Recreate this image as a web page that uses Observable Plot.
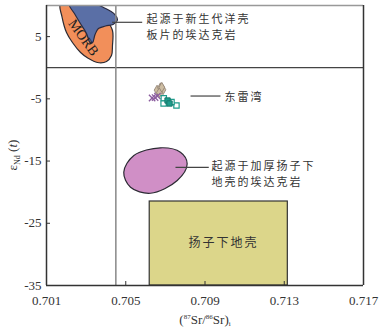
<!DOCTYPE html>
<html><head><meta charset="utf-8">
<script src="https://cdn.jsdelivr.net/npm/d3@7"></script>
<script src="https://cdn.jsdelivr.net/npm/@observablehq/plot@0.6"></script>
<style>
body{margin:0;background:#fff;}
.cn text{letter-spacing:2px;}
</style></head><body><div id="chart"></div>
<script>
// axes
const xTicks = [0.701, 0.705, 0.709, 0.713, 0.717];
const yTicks = [5, -5, -15, -25, -35];
const xDomain = [0.701, 0.717];
const yDomain = [-35, 10];
const refLineSr = 0.7045;   // vertical reference line
const refLineNd = 0;        // horizontal reference line

// MORB field (orange)
const morbX = [0.70171, 0.70178, 0.70201, 0.70231, 0.70272, 0.70312, 0.70357, 0.70403, 0.70428, 0.70433, 0.70433, 0.70398, 0.70347, 0.70322];
const morbY = [10.2, 8.23, 5.66, 4.05, 2.45, 1.48, 0.84, 1.0, 1.96, 3.57, 5.98, 7.91, 9.52, 10.2];
// Cenozoic oceanic slab adakite field (blue)
const slabX = [0.70215, 0.70241, 0.70271, 0.70302, 0.70319, 0.70332, 0.70345, 0.70362, 0.70398, 0.70438, 0.70458, 0.70443, 0.70393, 0.70347];
const slabY = [10.2, 8.71, 7.1, 5.5, 4.06, 4.0, 5.34, 6.3, 6.7, 7.0, 7.7, 8.6, 9.6, 10.2];
// thickened Yangtze lower crust adakite field (pink)
const thickX = [0.7049, 0.70541, 0.70675, 0.70776, 0.7081, 0.7076, 0.70625, 0.70524];
const thickY = [-16.79, -14.11, -12.87, -13.58, -15.44, -18.13, -20.17, -19.2];
// Yangtze lower crust box
const boxX1 = [0.70621], boxX2 = [0.71318], boxY1 = [-35], boxY2 = [-21.5];

// Donglei Bay samples
const diamondX = [0.70658, 0.70675, 0.70688, 0.7067, 0.70682];
const diamondY = [-3.6, -3.22, -3.55, -3.98, -3.15];
const crossX = [0.70633, 0.70648, 0.7066];
const crossY = [-4.87, -4.79, -4.55];
const openSqX = [0.70692, 0.70691, 0.70756, 0.70731];
const openSqY = [-4.9, -5.75, -6.07, -5.51];
const fillSqX = [0.70711, 0.70721];
const fillSqY = [-5.27, -5.75];

// annotations
const leaderX1 = [0.70431, 0.70827, 0.70751];
const leaderX2 = [0.70583, 0.70978, 0.70919];
const leaderY = [7.3, -4.55, -16.0];
const noteLines = [["起源于新生代洋壳", "板片的埃达克岩"], ["东雷湾"], ["起源于加厚扬子下", "地壳的埃达克岩"]];
const noteX = [0.70605, 0.70999, 0.70933];
const noteY = [6.79, -4.55, -16.95];
const boxLabel = ["扬子下地壳"], boxLabelX = [0.70993], boxLabelY = [-28.25];
const morbLabel = ["MORB"], morbLabelX = [0.70287], morbLabelY = [4.86];

const pts = (xs, ys) => xs.map((x, i) => ({x, y: ys[i]}));
const cnFont = "'Noto Sans CJK SC', sans-serif";

const plot = Plot.plot({
  width: 381, height: 333,
  marginLeft: 46, marginRight: 18, marginTop: 5, marginBottom: 48,
  x: {domain: xDomain},
  y: {domain: yDomain},
  style: {fontFamily: "'Liberation Serif', serif", fontSize: "13px", background: "#fff", color: "#333"},
  marks: [
    Plot.rect(boxX1.map((x, i) => ({x1: x, x2: boxX2[i], y1: boxY1[i], y2: boxY2[i]})),
      {x1: "x1", x2: "x2", y1: "y1", y2: "y2", fill: "#dcd68a", stroke: "#333", strokeWidth: 1.2}),
    Plot.line(pts(morbX, morbY), {x: "x", y: "y", curve: "catmull-rom-closed", fill: "#f28f5a", stroke: "#2b2b33", strokeWidth: 1.2, clip: true}),
    Plot.line(pts(slabX, slabY), {x: "x", y: "y", curve: "catmull-rom-closed", fill: "#5a6fa6", stroke: "#2b2b40", strokeWidth: 1.2, clip: true}),
    Plot.line(pts(thickX, thickY), {x: "x", y: "y", curve: "catmull-rom-closed", fill: "#d08fc6", stroke: "#2b2b33", strokeWidth: 1.2}),
    Plot.ruleY([refLineNd], {stroke: "#444", strokeWidth: 1.2}),
    Plot.ruleX([refLineSr], {stroke: "#888", strokeWidth: 1.5}),
    Plot.ruleY([yDomain[1]], {stroke: "#999", strokeWidth: 1.5}),
    Plot.ruleX([xDomain[1]], {stroke: "#333", strokeWidth: 1.5}),
    Plot.ruleX([xDomain[0]], {stroke: "#333", strokeWidth: 1.5}),
    Plot.ruleY([yDomain[0]], {stroke: "#333", strokeWidth: 1.5}),
    Plot.axisX({ticks: xTicks, tickFormat: d => d.toFixed(3), tickSize: -4, tickPadding: 14, label: null, stroke: "#333"}),
    Plot.axisY({ticks: yTicks, tickFormat: d => String(d), tickSize: -4, tickPadding: 9, label: null, stroke: "#333"}),
    Plot.link(leaderX1.map((x, i) => ({x1: x, x2: leaderX2[i], y: leaderY[i]})),
      {x1: "x1", x2: "x2", y1: "y", y2: "y", stroke: "#444", strokeWidth: 1.2}),
    Plot.text(noteX.map((x, i) => ({x, y: noteY[i], t: noteLines[i].join("\n")})),
      {x: "x", y: "y", text: "t", textAnchor: "start", lineHeight: 1.45, fontFamily: cnFont, fontSize: 11, fill: "#333", className: "cn"}),
    Plot.text(pts(boxLabelX, boxLabelY).map((d, i) => ({...d, t: boxLabel[i]})),
      {x: "x", y: "y", text: "t", fontFamily: cnFont, fontSize: 12, fill: "#333", className: "cn"}),
    Plot.text(pts(morbLabelX, morbLabelY).map((d, i) => ({...d, t: morbLabel[i]})),
      {x: "x", y: "y", text: "t", rotate: 54, fontSize: 14, fill: "#222"}),
    Plot.dot(pts(diamondX, diamondY), {x: "x", y: "y", symbol: "diamond", r: 3, fill: "#cdbda3", stroke: "#8d7e70", strokeWidth: 0.8}),
    Plot.dot(pts(crossX, crossY), {x: "x", y: "y", symbol: "times", r: 3, stroke: "#8b5c9e", strokeWidth: 1.3}),
    Plot.dot(pts(openSqX, openSqY), {x: "x", y: "y", symbol: "square", r: 3, fill: "white", stroke: "#1e9c8c", strokeWidth: 1.2}),
    Plot.dot(pts(fillSqX, fillSqY), {x: "x", y: "y", symbol: "square", r: 3, fill: "#1e9c8c", stroke: "#167a6d", strokeWidth: 1})
  ]
});

const svg = d3.select(plot);
// y label: εNd (t)
const yl = svg.append("text")
  .attr("transform", "translate(17,155) rotate(-90)")
  .attr("text-anchor", "middle")
  .attr("font-size", 13).attr("fill", "#333");
yl.append("tspan").text("ε");
yl.append("tspan").attr("font-size", 8).attr("dy", 3).text("Nd");
yl.append("tspan").attr("dy", -3).text(" (");
yl.append("tspan").attr("font-style", "italic").text("t");
yl.append("tspan").text(")");
// x label: (87Sr/86Sr)i
const xl = svg.append("text")
  .attr("x", 205).attr("y", 324)
  .attr("text-anchor", "middle")
  .attr("font-size", 13).attr("fill", "#333");
xl.append("tspan").text("(");
xl.append("tspan").attr("font-size", 7).attr("dy", -5).text("87");
xl.append("tspan").attr("dy", 5).text("Sr/");
xl.append("tspan").attr("font-size", 7).attr("dy", -5).text("86");
xl.append("tspan").attr("dy", 5).text("Sr)");
xl.append("tspan").attr("font-size", 7).attr("dy", 2).text("i");

document.getElementById("chart").appendChild(plot);
</script></body></html>
